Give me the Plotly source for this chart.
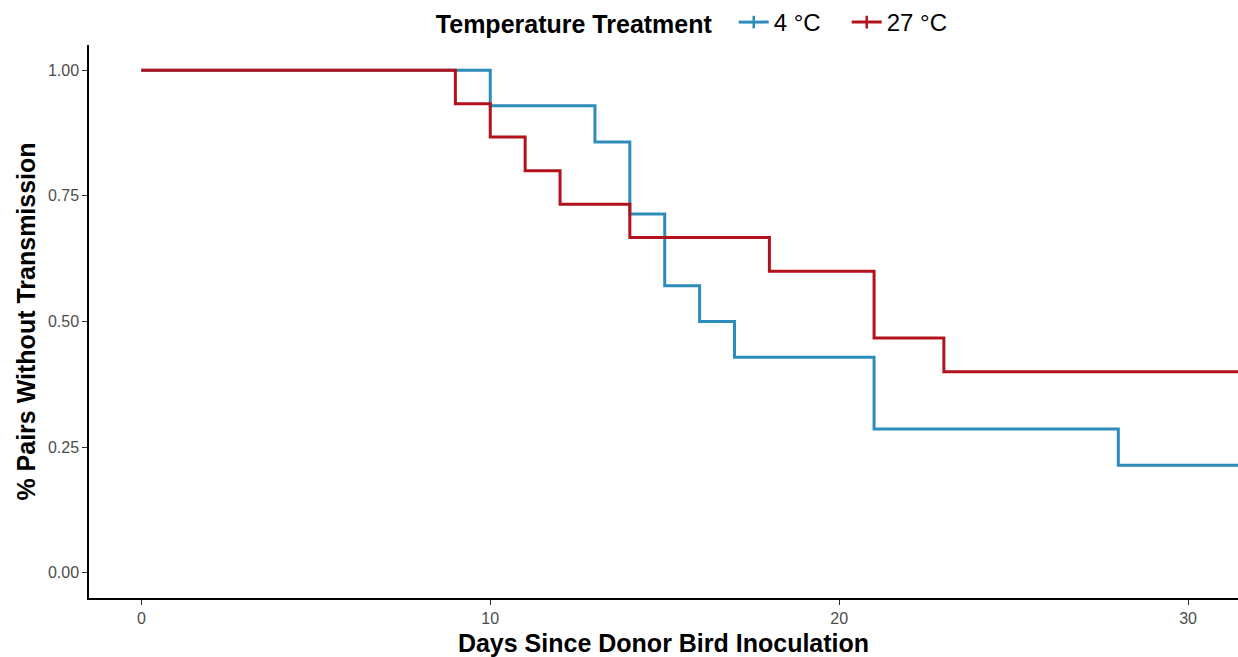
import plotly.graph_objects as go

# Kaplan-Meier style step data
days_4c = [0, 10, 13, 14, 15, 16, 17, 21, 28, 31.5]
surv_4c = [1.0, 0.929, 0.857, 0.714, 0.571, 0.5, 0.429, 0.286, 0.214, 0.214]

days_27c = [0, 9, 10, 11, 12, 14, 18, 21, 23, 31.5]
surv_27c = [1.0, 0.933, 0.867, 0.8, 0.733, 0.667, 0.6, 0.467, 0.4, 0.4]

x_ticks = [0, 10, 20, 30]
y_ticks = [0.0, 0.25, 0.5, 0.75, 1.0]
y_tick_labels = ["0.00", "0.25", "0.50", "0.75", "1.00"]

BLUE = "#2E8CBB"
RED = "#B3121C"
FONT = "Liberation Sans, Arial, Helvetica, sans-serif"

fig = go.Figure()
fig.add_trace(go.Scatter(x=days_4c, y=surv_4c, mode="lines", line=dict(color=BLUE, width=3, shape="hv"),
                         showlegend=False, hoverinfo="skip"))
fig.add_trace(go.Scatter(x=days_27c, y=surv_27c, mode="lines", line=dict(color=RED, width=3, shape="hv"),
                         showlegend=False, hoverinfo="skip"))
# legend entries
for name, col in [("4 °C", BLUE), ("27 °C", RED)]:
    fig.add_trace(go.Scatter(x=[None], y=[None], mode="lines+markers", name=name,
                             line=dict(color=col, width=3),
                             marker=dict(symbol="line-ns-open", size=9, color=col,
                                         line=dict(color=col, width=2.5))))

fig.update_layout(
    width=1238, height=657,
    margin=dict(l=89, r=0, t=45, b=59),
    paper_bgcolor="white", plot_bgcolor="white",
    font=dict(family=FONT, color="black"),
    legend=dict(orientation="h", x=0.529, xanchor="center", y=1.0, yanchor="bottom",
                title=dict(text="<b>Temperature Treatment  </b>", font=dict(size=25, color="black"), side="left"),
                font=dict(size=24, color="black"), itemwidth=30, entrywidth=68, tracegroupgap=0,
                bgcolor="rgba(0,0,0,0)"),
)
fig.update_xaxes(range=[-1.5, 31.43], tickvals=x_ticks, ticks="outside", ticklen=5, tickwidth=1,
                 tickcolor="#333333", showline=True, linecolor="black", linewidth=1.5,
                 showgrid=False, zeroline=False,
                 tickfont=dict(size=16, color="#4d4d4d"),
                 title=dict(text="<b>Days Since Donor Bird Inoculation</b>", font=dict(size=25), standoff=10))
fig.update_yaxes(range=[-0.05, 1.05], tickvals=y_ticks, ticktext=y_tick_labels, ticks="outside", ticklen=5,
                 tickwidth=1, tickcolor="#333333", showline=True, linecolor="black", linewidth=1.5,
                 showgrid=False, zeroline=False,
                 tickfont=dict(size=16, color="#4d4d4d"),
                 title=dict(text="<b>% Pairs Without Transmission</b>", font=dict(size=25), standoff=5))

fig.write_html("out.html")
